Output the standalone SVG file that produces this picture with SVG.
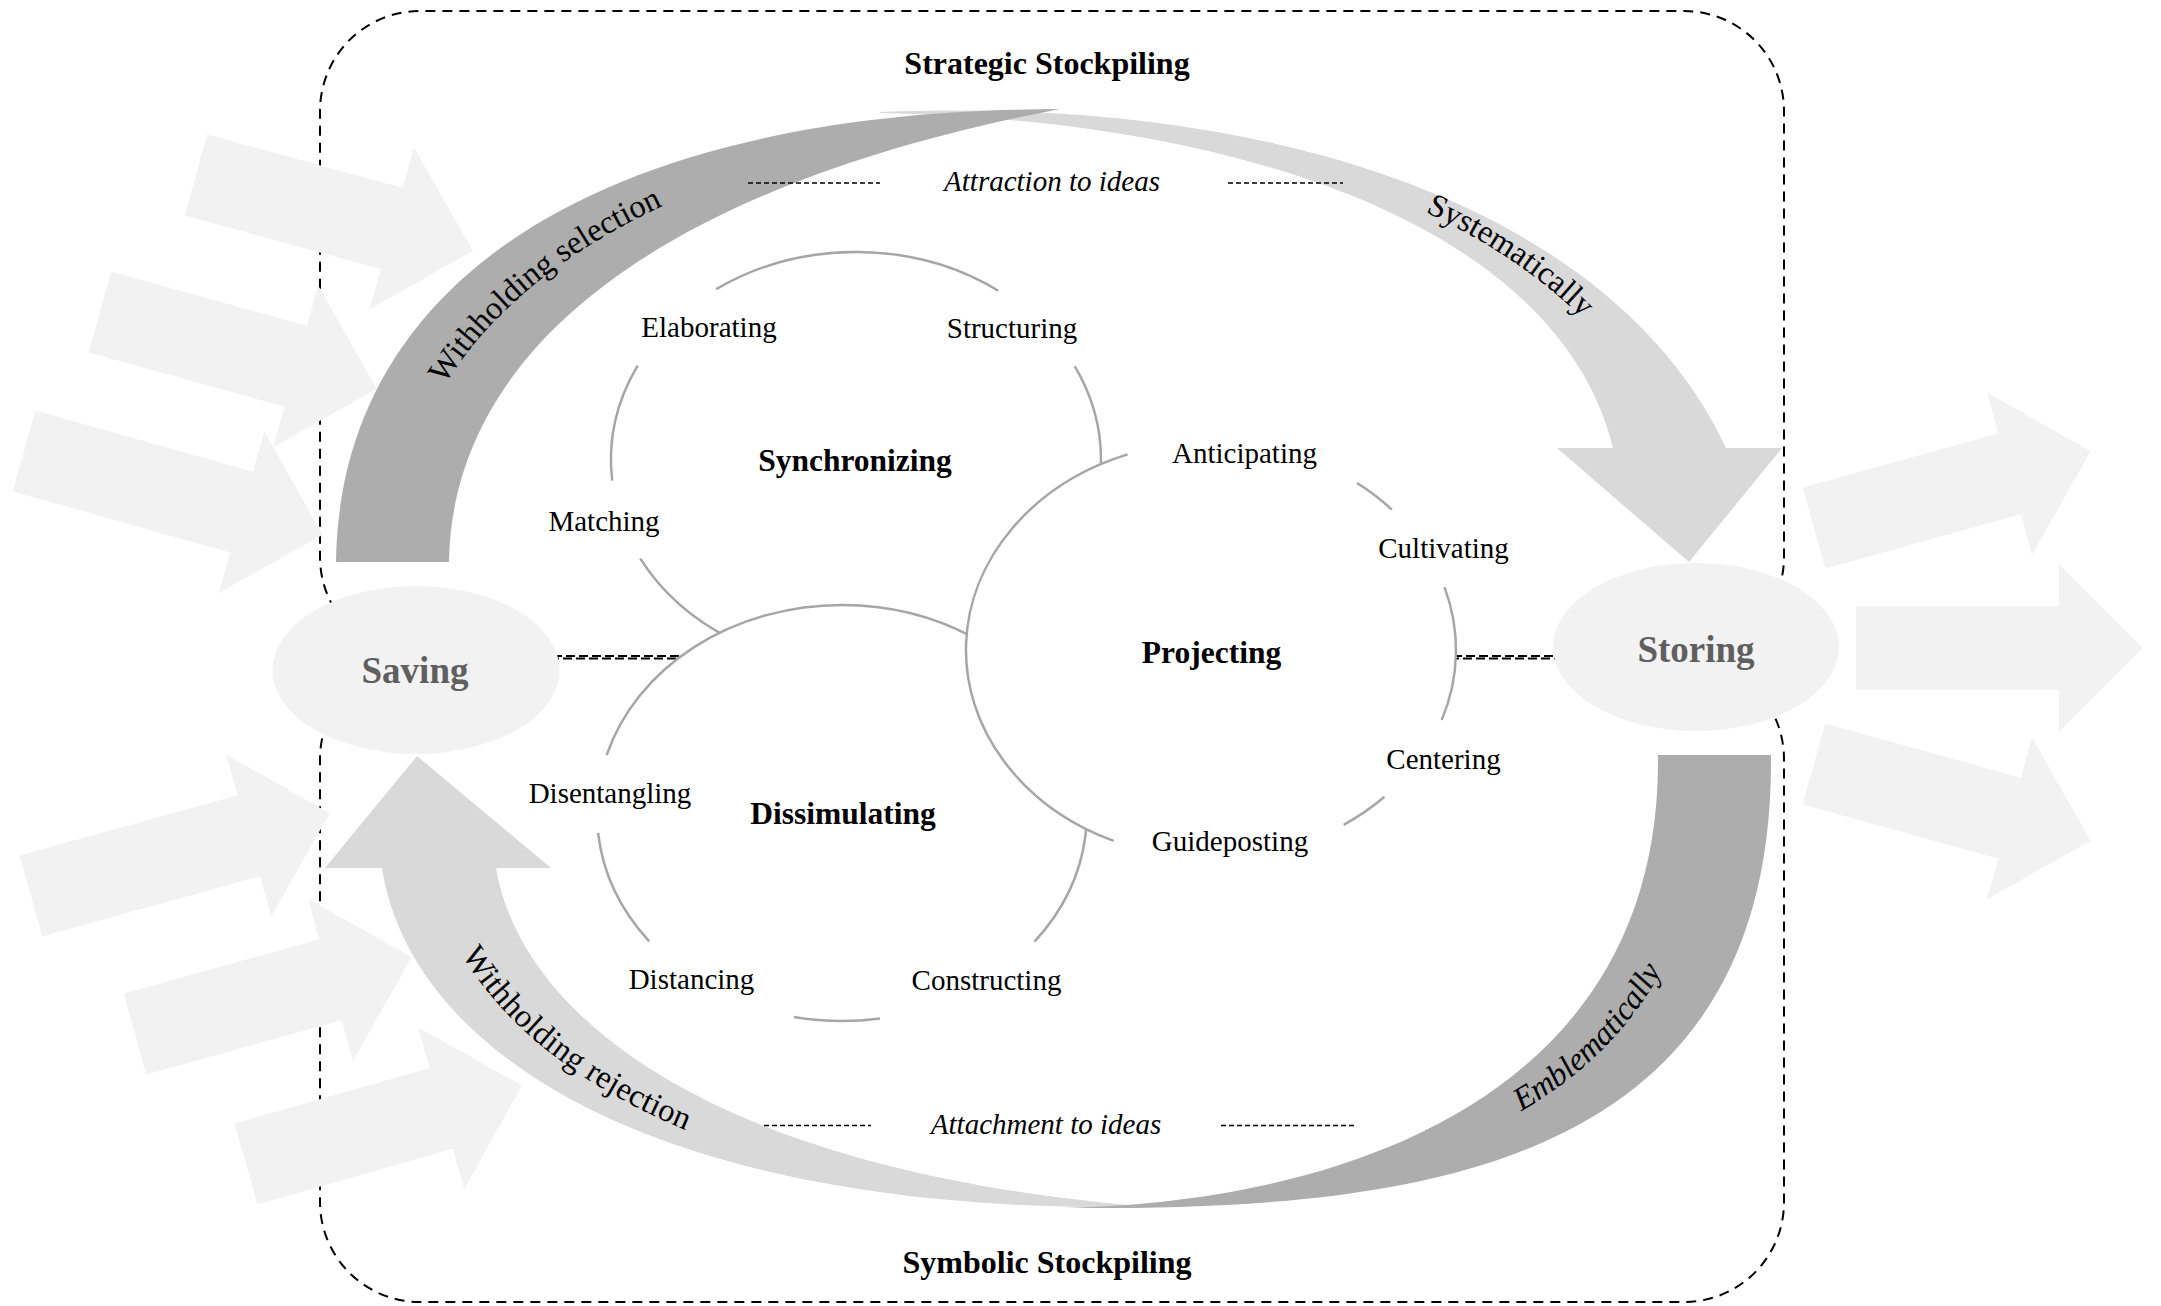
<svg xmlns="http://www.w3.org/2000/svg" xmlns:xlink="http://www.w3.org/1999/xlink" width="2161" height="1306" viewBox="0 0 2161 1306">
  <defs>
    <style>
      .lbl { font-family: "Liberation Serif", "Times New Roman", serif; font-size: 29px; fill: #000; text-anchor: middle; }
      .title { font-weight: bold; font-size: 31.5px; }
      .stock { font-weight: bold; font-size: 32px; }
      .hub { font-weight: bold; font-size: 37px; fill: #5f5f5f; }
      .idea { font-style: italic; }
      .band-lbl { font-size: 32.5px; }
      .arc { fill: none; stroke: #a6a6a6; stroke-width: 2.5; }
      .disc { fill: #fff; }
      .frame { fill: none; stroke: #000; stroke-width: 2; stroke-dasharray: 10 7; }
      .flow { fill: #f2f2f2; }
      .hub-fill { fill: #f2f2f2; }
      .link { fill: none; stroke: #000; stroke-width: 2; stroke-dasharray: 9 4; }
      .hint { fill: none; stroke: #000; stroke-width: 1.3; stroke-dasharray: 5 3; }
      .band-dark { fill: #adadad; }
      .band-light { fill: #d9d9d9; }
    </style>
    <!-- block arrows: shaft 203, head 84 (standard) / shaft 226 (long) -->
    <path id="arrow-std" d="M0,-42H203V-84L287,0L203,84V42H0Z"/>
    <path id="arrow-long" d="M0,-42H226V-84L310,0L226,84V42H0Z"/>
    <!-- centre lines of the four cycle bands, used to set their labels -->
    <path id="tp-selection" d="M392,562 C396,325 620,150 1060,109"/>
    <path id="tp-systematic" d="M880,112.5 C1275,107.5 1590,225 1669.5,448"/>
    <path id="tp-emblematic" d="M1060,1208 C1350,1207.5 1718.5,1150 1714.5,755"/>
    <path id="tp-rejection" d="M439,868 C465,1030 675,1192.5 1150,1207"/>
  </defs>

  <rect x="0" y="0" width="2161" height="1306" fill="#fff"/>

  <!-- dashed stockpiling frames -->
  <g id="frames">
    <path class="frame" d="M420,657 A100,100 0 0 1 320,557 V111 A100,100 0 0 1 420,11 H1684 A100,100 0 0 1 1784,111 V557 A100,100 0 0 1 1684,657"/>
    <path class="frame" d="M420,659 A100,100 0 0 0 320,759 V1202 A100,100 0 0 0 420,1302 H1684 A100,100 0 0 0 1784,1202 V759 A100,100 0 0 0 1684,659"/>
    <text class="lbl stock" x="1047" y="74">Strategic Stockpiling</text>
    <text class="lbl stock" x="1047" y="1273">Symbolic Stockpiling</text>
  </g>

  <!-- incoming arrows on the left -->
  <g id="inflow-arrows" class="flow">
    <use xlink:href="#arrow-std" transform="translate(196,175) rotate(15.3)"/>
    <use xlink:href="#arrow-std" transform="translate(100,312) rotate(15.5)"/>
    <use xlink:href="#arrow-long" transform="translate(24,451) rotate(15.7)"/>
    <use xlink:href="#arrow-long" transform="translate(31,896) rotate(-15.5)"/>
    <use xlink:href="#arrow-std" transform="translate(135,1034) rotate(-15.5)"/>
    <use xlink:href="#arrow-std" transform="translate(246,1164) rotate(-15.9)"/>
  </g>

  <!-- outgoing arrows on the right -->
  <g id="outflow-arrows" class="flow">
    <use xlink:href="#arrow-std" transform="translate(1814,528) rotate(-15.5)"/>
    <use xlink:href="#arrow-std" transform="translate(1856,648)"/>
    <use xlink:href="#arrow-std" transform="translate(1814,764) rotate(15.5)"/>
  </g>

  <!-- curved cycle bands -->
  <g id="cycle-bands">
    <path class="band-light" d="M880,112 C1300,95 1620,220 1726,448 L1782,448 L1689,562 L1557,448 L1613,448 C1560,230 1250,120 880,113 Z"/>
    <path class="band-dark" d="M336,562 C340,280 600,110 1060,109 C640,190 452,360 449,562 Z"/>
    <path class="band-light" d="M382,868 C410,1050 650,1215 1150,1207 C700,1170 520,1010 496,868 L551,868 L417,756 L325,868 Z"/>
    <path class="band-dark" d="M1658,755 L1771,755 C1775,1180 1400,1210 1060,1208 C1300,1205 1662,1120 1658,755 Z"/>
    <text class="lbl band-lbl" dy="1"><textPath xlink:href="#tp-selection" startOffset="331">Withholding selection</textPath></text>
    <text class="lbl band-lbl" dy="3"><textPath xlink:href="#tp-systematic" startOffset="655">Systematically</textPath></text>
    <text class="lbl band-lbl idea" dy="-5"><textPath xlink:href="#tp-emblematic" startOffset="580">Emblematically</textPath></text>
    <text class="lbl band-lbl" dy="8"><textPath xlink:href="#tp-rejection" startOffset="230">Withholding rejection</textPath></text>
  </g>

  <!-- dashed connectors -->
  <g id="connectors">
    <line class="link" x1="540" y1="656" x2="700" y2="656"/>
    <line class="link" x1="540" y1="658.5" x2="700" y2="658.5" stroke-dashoffset="3"/>
    <line class="link" x1="1440" y1="656" x2="1570" y2="656"/>
    <line class="link" x1="1440" y1="658.5" x2="1570" y2="658.5" stroke-dashoffset="3"/>
    <line class="hint" x1="748" y1="183" x2="880" y2="183"/>
    <line class="hint" x1="1228" y1="183" x2="1343" y2="183"/>
    <line class="hint" x1="764" y1="1125.5" x2="871" y2="1125.5"/>
    <line class="hint" x1="1221" y1="1125.5" x2="1357" y2="1125.5"/>
    <text class="lbl idea" x="1052" y="191">Attraction to ideas</text>
    <text class="lbl idea" x="1046" y="1134">Attachment to ideas</text>
  </g>

  <!-- Synchronizing -->
  <g id="node-synchronizing">
    <ellipse class="disc" cx="856" cy="460" rx="245" ry="208"/>
    <path class="arc" d="M716.2,289.2 A245,208 0 0 1 998.3,290.7"/>
    <path class="arc" d="M1074.7,366.2 A245,208 0 0 1 856,668 A245,208 0 0 1 640.3,558.6"/>
    <path class="arc" d="M612.2,480.7 A245,208 0 0 1 637.7,365.6"/>
    <text class="lbl title" x="855" y="471">Synchronizing</text>
    <text class="lbl" x="709" y="337">Elaborating</text>
    <text class="lbl" x="1012" y="338">Structuring</text>
    <text class="lbl" x="604" y="531">Matching</text>
  </g>

  <!-- Dissimulating -->
  <g id="node-dissimulating">
    <ellipse class="disc" cx="842" cy="813" rx="245" ry="208"/>
    <path class="arc" d="M879.9,1018.5 A245,208 0 0 1 794,1017"/>
    <path class="arc" d="M649.2,941.3 A245,208 0 0 1 598.1,832.9"/>
    <path class="arc" d="M606.7,755 A245,208 0 0 1 842,605 A245,208 0 0 1 1034.5,941.6"/>
    <text class="lbl title" x="843" y="824">Dissimulating</text>
    <text class="lbl" x="610" y="803">Disentangling</text>
    <text class="lbl" x="691.5" y="989">Distancing</text>
    <text class="lbl" x="986.5" y="990">Constructing</text>
  </g>

  <!-- Projecting -->
  <g id="node-projecting">
    <ellipse class="disc" cx="1211" cy="650" rx="245" ry="208"/>
    <path class="arc" d="M1357.1,483 A245,208 0 0 1 1391.9,509.7"/>
    <path class="arc" d="M1444.5,587.1 A245,208 0 0 1 1441.7,720.1"/>
    <path class="arc" d="M1384.5,796.8 A245,208 0 0 1 1343.7,824.8"/>
    <path class="arc" d="M1113.7,840.9 A245,208 0 0 1 1127.6,454.4"/>
    <text class="lbl title" x="1211.5" y="663">Projecting</text>
    <text class="lbl" x="1244.5" y="463">Anticipating</text>
    <text class="lbl" x="1443.5" y="558">Cultivating</text>
    <text class="lbl" x="1443.5" y="769">Centering</text>
    <text class="lbl" x="1230" y="851">Guideposting</text>
  </g>

  <!-- Saving -->
  <g id="node-saving">
    <ellipse class="hub-fill" cx="416" cy="670" rx="143.5" ry="84"/>
    <text class="lbl hub" x="415" y="683">Saving</text>
  </g>

  <!-- Storing -->
  <g id="node-storing">
    <ellipse class="hub-fill" cx="1696" cy="647" rx="143" ry="84"/>
    <text class="lbl hub" x="1696" y="662">Storing</text>
  </g>
</svg>
